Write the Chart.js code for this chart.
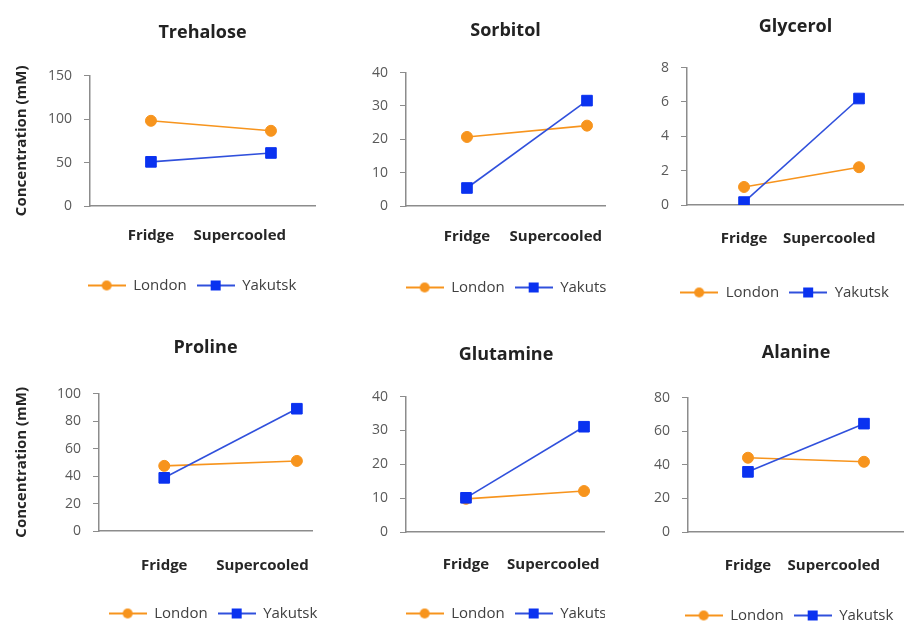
<!DOCTYPE html>
<html>
<head>
<meta charset="utf-8">
<script src="https://cdn.jsdelivr.net/npm/chart.js@4.4.1/dist/chart.umd.min.js"></script>
<style>
  html, body { margin: 0; padding: 0; background: #fff; overflow: hidden; }
  body { width: 904px; height: 623px; position: relative; }
  .clip { position: absolute; overflow: hidden; }
  .clip canvas { position: absolute; left: 0; top: 0; }
</style>
</head>
<body>
<script>
// data
const categories = ['Fridge', 'Supercooled'];
const seriesNames = ['London', 'Yakutsk'];
const panelTitles = ['Trehalose', 'Sorbitol', 'Glycerol', 'Proline', 'Glutamine', 'Alanine'];
const londonValues = [[98, 86.5], [20.7, 24.1], [1.05, 2.2], [47.4, 51], [9.8, 12.1], [44.2, 41.8]];
const yakutskValues = [[50.8, 61], [5.4, 31.6], [0.17, 6.2], [38.7, 89], [10.1, 31.1], [35.8, 64.5]];
const yMax = [150, 40, 8, 100, 40, 80];
const yStep = [50, 10, 2, 20, 10, 20];
const yAxisTitle = 'Concentration (mM)';

const seriesValues = [londonValues, yakutskValues];
const seriesStyles = [
  { line: '#F7941D', marker: '#F7941D', shape: 'circle', radius: 5.5 },
  { line: '#3050DC', marker: '#0A32F0', shape: 'rect', radius: 7.5 }
];

// where the category names sit along the x axis (the long label sits left of its point)
const labelSlots = [0, 0.74];

// panel placement: canvas box, clip width, axis widths, paddings
const panels = [
  { x: 0,   y: 0,   w: 384, h: 303, clipW: 384, yw: 90, rw: 69,  tp: 22, tb: 32, xh: 62, lp: 21, xMin: -0.508, xMax: 1.367, yTitle: true },
  { x: 360, y: 0,   w: 300, h: 305, clipW: 246, yw: 46, rw: 55,  tp: 20, tb: 31, xh: 64, lp: 22, xMin: -0.508, xMax: 1.15 },
  { x: 650, y: 0,   w: 269, h: 310, clipW: 269, yw: 37, rw: 15,  tp: 16, tb: 30, xh: 70, lp: 25, xMin: -0.496, xMax: 1.391 },
  { x: 0,   y: 315, w: 426, h: 316, clipW: 320, yw: 99, rw: 114, tp: 22, tb: 35, xh: 65, lp: 26, xMin: -0.492, xMax: 1.114, yTitle: true },
  { x: 360, y: 315, w: 300, h: 316, clipW: 245, yw: 46, rw: 54,  tp: 29, tb: 31, xh: 64, lp: 24, xMin: -0.508, xMax: 1.186 },
  { x: 645, y: 315, w: 288, h: 318, clipW: 288, yw: 43, rw: 29,  tp: 27, tb: 34, xh: 66, lp: 25, xMin: -0.517, xMax: 1.345 }
];

Chart.defaults.font.family = "'Open Sans', sans-serif";
const axisGray = '#8c8c8c';

// legend icon: short line with the marker in the middle
function makeIcon(style) {
  const c = document.createElement('canvas');
  c.width = 38;
  c.height = 14;
  const g = c.getContext('2d');
  g.strokeStyle = style.line;
  g.lineWidth = 2;
  g.beginPath();
  g.moveTo(0, 7);
  g.lineTo(38, 7);
  g.stroke();
  g.fillStyle = style.marker;
  if (style.shape === 'circle') {
    g.beginPath();
    g.arc(19, 7, 5, 0, Math.PI * 2);
    g.fill();
  } else {
    g.fillRect(14, 2, 10, 10);
  }
  return c;
}
const icons = seriesStyles.map(makeIcon);

panels.forEach((p, k) => {
  const clip = document.createElement('div');
  clip.className = 'clip';
  clip.style.left = p.x + 'px';
  clip.style.top = p.y + 'px';
  clip.style.width = p.clipW + 'px';
  clip.style.height = p.h + 'px';
  const canvas = document.createElement('canvas');
  canvas.width = p.w;
  canvas.height = p.h;
  clip.appendChild(canvas);
  document.body.appendChild(clip);

  const datasets = seriesNames.map((name, s) => ({
    label: name,
    data: categories.map((c, i) => ({ x: i, y: seriesValues[s][k][i] })),
    borderColor: seriesStyles[s].line,
    backgroundColor: seriesStyles[s].marker,
    borderWidth: 1.6,
    pointStyle: seriesStyles[s].shape,
    pointRadius: seriesStyles[s].radius,
    pointBorderWidth: 1,
    pointBorderColor: seriesStyles[s].marker,
    pointBackgroundColor: seriesStyles[s].marker,
    order: seriesNames.length - s
  }));

  new Chart(canvas, {
    type: 'line',
    data: { datasets: datasets },
    options: {
      responsive: false,
      animation: false,
      devicePixelRatio: 1,
      layout: { padding: 0 },
      plugins: {
        tooltip: { enabled: false },
        title: {
          display: true,
          text: panelTitles[k],
          fullSize: false,
          color: '#222',
          font: { size: 18, weight: 'bold' },
          padding: { top: p.tp, bottom: p.tb }
        },
        legend: {
          position: 'bottom',
          labels: {
            usePointStyle: true,
            pointStyleWidth: 38,
            padding: 10,
            color: '#404040',
            font: { size: 15 },
            sort: (a, b) => a.datasetIndex - b.datasetIndex,
            generateLabels: chart => Chart.defaults.plugins.legend.labels.generateLabels(chart)
              .map(item => Object.assign(item, { pointStyle: icons[item.datasetIndex] }))
          }
        }
      },
      scales: {
        x: {
          type: 'linear',
          min: p.xMin,
          max: p.xMax,
          grid: { display: false, drawTicks: false },
          border: { display: true, color: axisGray, width: 1.5 },
          afterBuildTicks: scale => { scale.ticks = labelSlots.map(v => ({ value: v })); },
          afterFit: scale => { scale.height = p.xh; },
          ticks: {
            autoSkip: false,
            maxRotation: 0,
            padding: p.lp,
            color: '#262626',
            font: { size: 15, weight: 'bold' },
            callback: (value, index) => categories[index]
          }
        },
        y: {
          min: 0,
          max: yMax[k],
          grid: { display: true, drawOnChartArea: false, drawTicks: true, tickLength: 6, color: axisGray },
          border: { display: true, color: axisGray, width: 1.5 },
          afterFit: scale => { scale.width = p.yw; },
          ticks: {
            stepSize: yStep[k],
            padding: 12,
            color: '#595959',
            font: { size: 14 }
          },
          title: {
            display: !!p.yTitle,
            text: yAxisTitle,
            color: '#262626',
            font: { size: 15, weight: 'bold' },
            padding: { top: 13, bottom: 0 }
          }
        },
        yr: {
          type: 'linear',
          position: 'right',
          grid: { display: false },
          border: { display: false },
          ticks: { display: false },
          afterFit: scale => { scale.width = p.rw; }
        }
      }
    }
  });
});
</script>
</body>
</html>
